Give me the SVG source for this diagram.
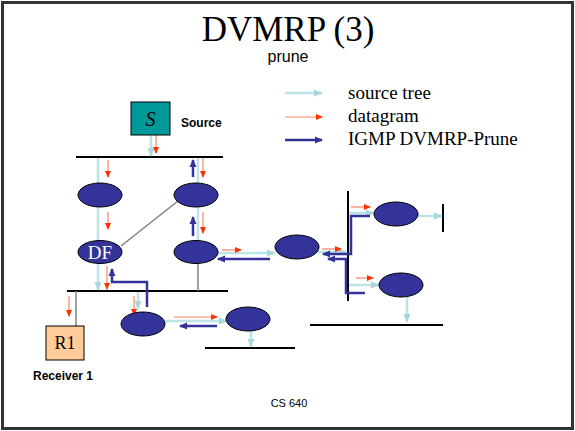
<svg xmlns="http://www.w3.org/2000/svg" width="575" height="431" viewBox="0 0 575 431">
<style>
.net{stroke:#000;stroke-width:2;fill:none}
.gray{stroke:#808080;stroke-width:1.5;fill:none}
.lb{stroke:#BCE3E6;stroke-width:2.5;fill:none}
.rd{stroke:#FF8066;stroke-width:1.2;fill:none}
.bl{stroke:#333399;stroke-width:2.5;fill:none}
.rt{fill:#333399;stroke:#000;stroke-width:1}
.serif{font-family:"Liberation Serif","Times New Roman",serif}
.sans{font-family:"Liberation Sans",Arial,sans-serif}
</style>
<defs>
<marker id="hLb" markerUnits="userSpaceOnUse" markerWidth="9" markerHeight="9" refX="8" refY="4.5" orient="auto"><path d="M0,1 L9,4.5 L0,8 z" fill="#A8D8DC"/></marker>
<marker id="hRd" markerUnits="userSpaceOnUse" markerWidth="7" markerHeight="7" refX="6" refY="3.5" orient="auto"><path d="M0,0.5 L7,3.5 L0,6.5 z" fill="#FF3300"/></marker>
<marker id="hBl" markerUnits="userSpaceOnUse" markerWidth="8" markerHeight="8" refX="7" refY="4" orient="auto"><path d="M0,0.5 L8,4 L0,7.5 z" fill="#333399"/></marker>
</defs>
<rect x="0" y="0" width="575" height="431" fill="#fff"/>
<rect x="2.5" y="2.5" width="570" height="426" fill="none" stroke="#333" stroke-width="3"/>
<text class="serif" x="288" y="41" font-size="35" text-anchor="middle">DVMRP (3)</text>
<text class="sans" x="288" y="62" font-size="16" text-anchor="middle">prune</text>
<g id="legend">
<line class="lb" x1="285" y1="93" x2="322" y2="93" stroke-width="2" marker-end="url(#hLb)"/>
<line class="rd" x1="285" y1="117" x2="322" y2="117" marker-end="url(#hRd)"/>
<line class="bl" x1="285" y1="140" x2="322" y2="140" stroke-width="2" marker-end="url(#hBl)"/>
<text class="serif" x="348" y="99" font-size="19">source tree</text>
<text class="serif" x="348" y="122" font-size="19">datagram</text>
<text class="serif" x="348" y="145" font-size="19">IGMP DVMRP-Prune</text>
</g>
<g id="networks">
<line class="net" x1="76" y1="157" x2="223" y2="157"/>
<line class="net" x1="67" y1="291" x2="228" y2="291"/>
<line class="net" x1="205" y1="348" x2="295" y2="348"/>
<line class="net" x1="348" y1="191" x2="348" y2="301"/>
<line class="net" x1="443" y1="204" x2="443" y2="232"/>
<line class="net" x1="310" y1="325" x2="443" y2="325"/>
</g>
<g id="connectors">
<line class="gray" x1="121" y1="246" x2="178" y2="201"/>
<line class="gray" x1="198" y1="263" x2="198" y2="291"/>
<line class="gray" x1="76" y1="291" x2="76" y2="326"/>
<line class="lb" x1="151" y1="135" x2="151" y2="156" marker-end="url(#hLb)"/>
<line class="lb" x1="98" y1="158" x2="98" y2="290" marker-end="url(#hLb)"/>
<line class="lb" x1="198" y1="158" x2="198" y2="242"/>
<line class="lb" x1="218" y1="253" x2="275" y2="253" marker-end="url(#hLb)"/>
<line class="lb" x1="318" y1="252" x2="346" y2="252" marker-end="url(#hLb)"/>
<line class="lb" x1="349" y1="213" x2="374" y2="213" marker-end="url(#hLb)"/>
<line class="lb" x1="413" y1="216" x2="442" y2="216" marker-end="url(#hLb)"/>
<line class="lb" x1="349" y1="285" x2="379" y2="285" marker-end="url(#hLb)"/>
<line class="lb" x1="407" y1="297" x2="407" y2="322" marker-end="url(#hLb)"/>
<line class="lb" x1="138" y1="292" x2="138" y2="309" marker-end="url(#hLb)"/>
<line class="lb" x1="165" y1="321" x2="227" y2="321" marker-end="url(#hLb)"/>
<line class="lb" x1="251" y1="331" x2="251" y2="347" marker-end="url(#hLb)"/>
<line class="rd" x1="156" y1="135" x2="156" y2="153" marker-end="url(#hRd)"/>
<line class="rd" x1="108" y1="160" x2="108" y2="177" marker-end="url(#hRd)"/>
<line class="rd" x1="203" y1="158" x2="203" y2="177" marker-end="url(#hRd)"/>
<line class="rd" x1="108" y1="212" x2="108" y2="229" marker-end="url(#hRd)"/>
<line class="rd" x1="203" y1="212" x2="203" y2="233" marker-end="url(#hRd)"/>
<line class="rd" x1="107" y1="266" x2="107" y2="289" marker-end="url(#hRd)"/>
<line class="rd" x1="222" y1="250" x2="241" y2="250" marker-end="url(#hRd)"/>
<line class="rd" x1="322" y1="249" x2="341" y2="249" marker-end="url(#hRd)"/>
<line class="rd" x1="351" y1="207" x2="370" y2="207" marker-end="url(#hRd)"/>
<line class="rd" x1="356" y1="278" x2="373" y2="278" marker-end="url(#hRd)"/>
<line class="rd" x1="69" y1="296" x2="69" y2="316" marker-end="url(#hRd)"/>
<line class="rd" x1="134" y1="296" x2="134" y2="315" marker-end="url(#hRd)"/>
<line class="rd" x1="174" y1="317" x2="217" y2="317" marker-end="url(#hRd)"/>
<line class="bl" x1="193" y1="177" x2="193" y2="160" marker-end="url(#hBl)"/>
<line class="bl" x1="193" y1="236" x2="193" y2="217" marker-end="url(#hBl)"/>
<line class="bl" x1="270" y1="259" x2="218" y2="259" marker-end="url(#hBl)"/>
<line class="bl" x1="217" y1="326" x2="180" y2="326" marker-end="url(#hBl)"/>
<path class="bl" d="M147,307 V282 H112 V269" marker-end="url(#hBl)"/>
<path class="bl" d="M370,216 H351 V254 H323" marker-end="url(#hBl)"/>
<path class="bl" d="M365,293 H346 V259 H328" marker-end="url(#hBl)"/>
</g>
<g id="S">
<rect x="131" y="102" width="39" height="33" fill="#009999" stroke="#000" stroke-width="1"/>
<text class="serif" x="150.5" y="126" font-size="20" font-style="italic" text-anchor="middle">S</text>
<text class="sans" x="181" y="127" font-size="12" font-weight="bold">Source</text>
</g>
<g id="R1">
<rect x="46" y="326" width="38" height="34" fill="#FFCC99" stroke="#000" stroke-width="1"/>
<text class="serif" x="65" y="349" font-size="18" text-anchor="middle">R1</text>
<text class="sans" x="33" y="380" font-size="12" font-weight="bold">Receiver 1</text>
</g>
<g id="router1"><ellipse class="rt" cx="100" cy="195" rx="22" ry="12"/></g>
<g id="router2"><ellipse class="rt" cx="196" cy="195" rx="22" ry="12"/></g>
<g id="DF"><ellipse class="rt" cx="100" cy="252" rx="22" ry="11.5"/>
<text class="serif" x="100" y="259" font-size="19" fill="#fff" text-anchor="middle">DF</text></g>
<g id="router4"><ellipse class="rt" cx="196" cy="252" rx="22" ry="11.5"/></g>
<g id="router5"><ellipse class="rt" cx="297" cy="247" rx="22" ry="12"/></g>
<g id="router6"><ellipse class="rt" cx="396" cy="214" rx="22" ry="12"/></g>
<g id="router7"><ellipse class="rt" cx="401" cy="285" rx="22" ry="12"/></g>
<g id="router8"><ellipse class="rt" cx="143" cy="324" rx="22" ry="12"/></g>
<g id="router9"><ellipse class="rt" cx="248" cy="319" rx="22" ry="12"/></g>
<text class="sans" x="289" y="407" font-size="11" text-anchor="middle">CS 640</text>
</svg>
